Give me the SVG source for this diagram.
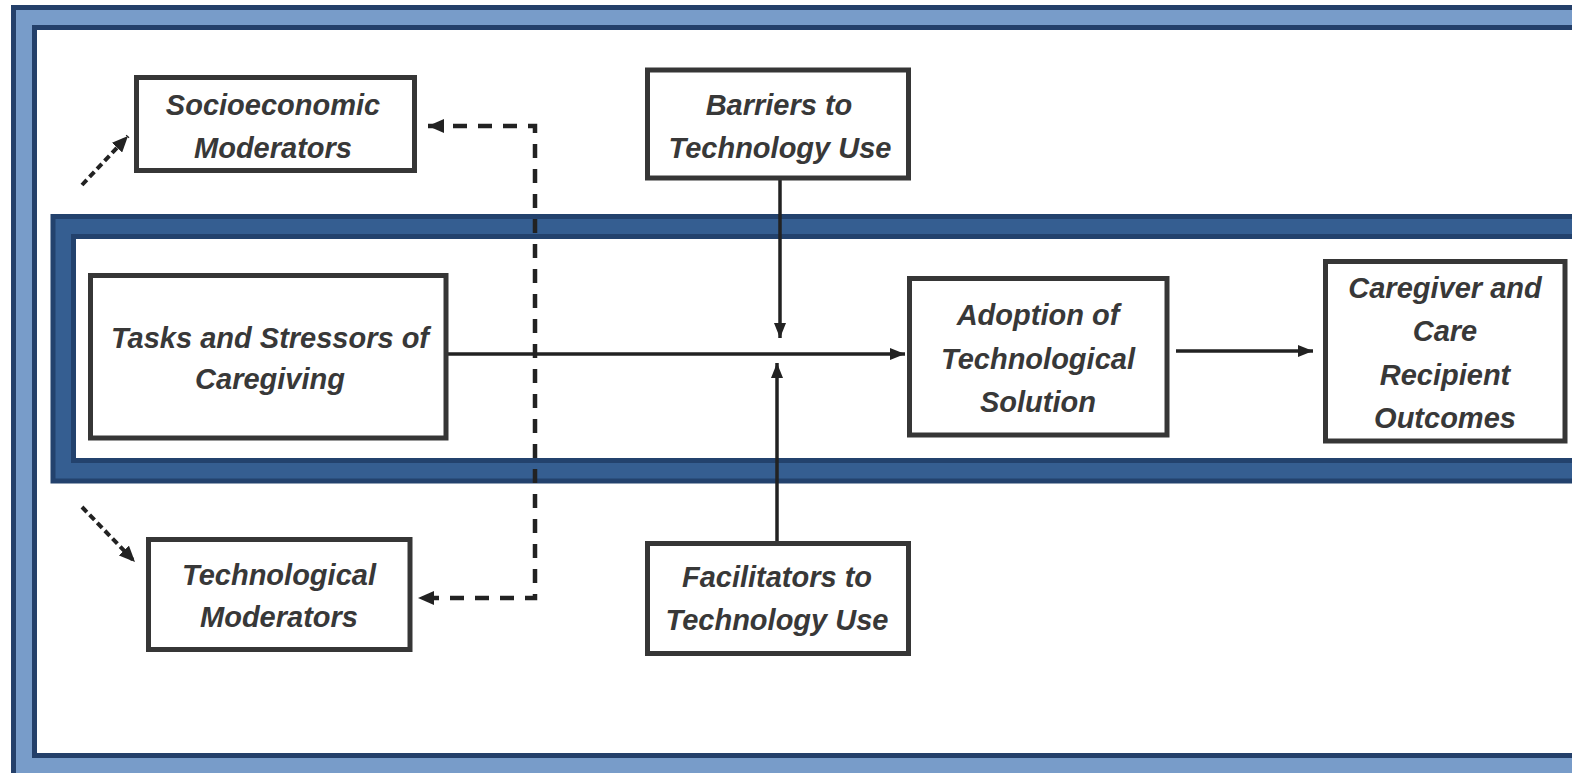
<svg xmlns="http://www.w3.org/2000/svg" width="1572" height="773" viewBox="0 0 1572 773">
<style>
.box{fill:#ffffff;stroke:#363636;stroke-width:5}
.lbl{font-family:"Liberation Sans",Arial,sans-serif;font-size:29px;font-style:italic;font-weight:bold;fill:#383838;text-anchor:middle}
.solid{fill:none;stroke:#222;stroke-width:3.5}
.dash{fill:none;stroke:#222;stroke-width:4.5;stroke-dasharray:14,11}
.dashs{fill:none;stroke:#222;stroke-width:4;stroke-dasharray:7,4}
</style>
<defs>
<marker id="ah" viewBox="0 0 15 12" refX="15" refY="6" markerWidth="15" markerHeight="12" markerUnits="userSpaceOnUse" orient="auto-start-reverse">
<path d="M0,0 L15,6 L0,12 Z" fill="#222" stroke="none"/>
</marker>
<marker id="ahd" viewBox="0 0 16 14" refX="16" refY="7" markerWidth="16" markerHeight="14" markerUnits="userSpaceOnUse" orient="auto-start-reverse">
<path d="M0,0 L16,7 L0,14 Z" fill="#222" stroke="none"/>
</marker>
</defs>
<rect width="1572" height="773" fill="#ffffff"/>
<g id="frame">
<rect x="13.5" y="7.5" width="1600" height="800" fill="#789CC9" stroke="#24406A" stroke-width="5"/>
<rect x="34.5" y="27.5" width="1600" height="728" fill="#ffffff" stroke="#24406A" stroke-width="5"/>
</g>
<g id="band">
<rect x="50.5" y="214" width="1600" height="269.5" fill="#23426D"/>
<rect x="55.5" y="219" width="1600" height="259.5" fill="#355E91"/>
<rect x="71" y="234" width="1600" height="229" fill="#23426D"/>
<rect x="76" y="239" width="1600" height="219" fill="#ffffff"/>
</g>
<g id="connectors">
<path class="solid" d="M446,354 H905" marker-end="url(#ah)"/>
<path class="solid" d="M780,180 V338" marker-end="url(#ah)"/>
<path class="solid" d="M777,541 V363" marker-end="url(#ah)"/>
<path class="solid" d="M1176,351 H1313" marker-end="url(#ah)"/>
<path class="dash" d="M428,126 H535 V598 H418" marker-start="url(#ahd)" marker-end="url(#ahd)"/>
<path class="dashs" d="M82,185 L128,136" marker-end="url(#ahd)"/>
<path class="dashs" d="M82,507 L135,562" marker-end="url(#ahd)"/>
</g>
<g id="socioeconomic">
<rect class="box" x="136.5" y="77.5" width="278" height="93"/>
<text class="lbl" x="273" y="115">Socioeconomic</text>
<text class="lbl" x="273" y="158">Moderators</text>
</g>
<g id="barriers">
<rect class="box" x="647.5" y="70" width="261" height="108"/>
<text class="lbl" x="779" y="115">Barriers to</text>
<text class="lbl" x="780" y="158">Technology Use</text>
</g>
<g id="tasks">
<rect class="box" x="90.5" y="275.5" width="355.5" height="162.5"/>
<text class="lbl" x="270" y="348">Tasks and Stressors of</text>
<text class="lbl" x="270" y="389">Caregiving</text>
</g>
<g id="adoption">
<rect class="box" x="909.5" y="278.5" width="257.5" height="156.5"/>
<text class="lbl" x="1038" y="325">Adoption of</text>
<text class="lbl" x="1038" y="369">Technological</text>
<text class="lbl" x="1038" y="412">Solution</text>
</g>
<g id="outcomes">
<rect class="box" x="1325.5" y="261.5" width="239.5" height="179.5"/>
<text class="lbl" x="1445" y="298">Caregiver and</text>
<text class="lbl" x="1445" y="341">Care</text>
<text class="lbl" x="1445" y="385">Recipient</text>
<text class="lbl" x="1445" y="428">Outcomes</text>
</g>
<g id="facilitators">
<rect class="box" x="647.5" y="543.5" width="261" height="110"/>
<text class="lbl" x="777" y="587">Facilitators to</text>
<text class="lbl" x="777" y="630">Technology Use</text>
</g>
<g id="technological">
<rect class="box" x="148.5" y="539.5" width="261.5" height="110"/>
<text class="lbl" x="279" y="585">Technological</text>
<text class="lbl" x="279" y="627">Moderators</text>
</g>
</svg>
